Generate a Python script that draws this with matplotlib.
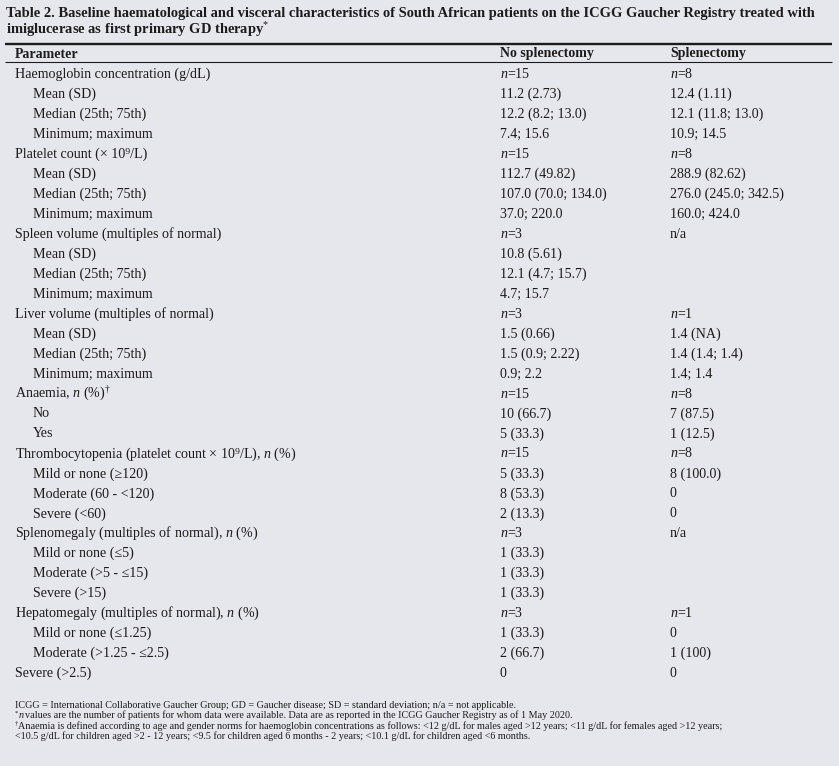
import matplotlib
matplotlib.use("Agg")
import matplotlib.pyplot as plt

plt.rcParams['font.family'] = ['Liberation Serif', 'DejaVu Serif']
plt.rcParams['mathtext.fontset'] = 'custom'
plt.rcParams['mathtext.rm'] = 'Liberation Serif'
plt.rcParams['mathtext.it'] = 'Liberation Serif:italic'
plt.rcParams['mathtext.bf'] = 'Liberation Serif:bold'

W, H = 839, 766
BG = '#e6e7ec'
INK = '#1e1b1c'

title_lines = [
    "Table 2. Baseline haematological and visceral characteristics of South African patients on the ICGG Gaucher Registry treated with",
    r"imiglucerase as first primary GD therapy$^{*}$",
]
headers = ["Parameter", "No splenectomy", "Splenectomy"]

params = [
    "Haemoglobin concentration (g/dL)", "Mean (SD)", "Median (25th; 75th)", "Minimum; maximum",
    "Platelet count (× 10⁹/L)", "Mean (SD)", "Median (25th; 75th)", "Minimum; maximum",
    "Spleen volume (multiples of normal)", "Mean (SD)", "Median (25th; 75th)", "Minimum; maximum",
    "Liver volume (multiples of normal)", "Mean (SD)", "Median (25th; 75th)", "Minimum; maximum",
    r"Anaemia, $n$ (%)$^{†}$", "No", "Yes",
    r"Thrombocytopenia (platelet count × 10⁹/L), $n$ (%)", "Mild or none (≥120)",
    "Moderate (60 - <120)", "Severe (<60)",
    r"Splenomegaly (multiples of normal), $n$ (%)", "Mild or none (≤5)",
    "Moderate (>5 - ≤15)", "Severe (>15)",
    r"Hepatomegaly (multiples of normal), $n$ (%)", "Mild or none (≤1.25)",
    "Moderate (>1.25 - ≤2.5)", "Severe (>2.5)",
]
indented = [0, 1, 1, 1, 0, 1, 1, 1, 0, 1, 1, 1, 0, 1, 1, 1,
            0, 1, 1, 0, 1, 1, 1, 0, 1, 1, 1, 0, 1, 1, 0]
no_splenectomy = [
    r"$n$=15", "11.2 (2.73)", "12.2 (8.2; 13.0)", "7.4; 15.6",
    r"$n$=15", "112.7 (49.82)", "107.0 (70.0; 134.0)", "37.0; 220.0",
    r"$n$=3", "10.8 (5.61)", "12.1 (4.7; 15.7)", "4.7; 15.7",
    r"$n$=3", "1.5 (0.66)", "1.5 (0.9; 2.22)", "0.9; 2.2",
    r"$n$=15", "10 (66.7)", "5 (33.3)",
    r"$n$=15", "5 (33.3)", "8 (53.3)", "2 (13.3)",
    r"$n$=3", "1 (33.3)", "1 (33.3)", "1 (33.3)",
    r"$n$=3", "1 (33.3)", "2 (66.7)", "0",
]
splenectomy = [
    r"$n$=8", "12.4 (1.11)", "12.1 (11.8; 13.0)", "10.9; 14.5",
    r"$n$=8", "288.9 (82.62)", "276.0 (245.0; 342.5)", "160.0; 424.0",
    "n/a", "", "", "",
    r"$n$=1", "1.4 (NA)", "1.4 (1.4; 1.4)", "1.4; 1.4",
    r"$n$=8", "7 (87.5)", "1 (12.5)",
    r"$n$=8", "8 (100.0)", "0", "0",
    "n/a", "", "", "",
    r"$n$=1", "0", "1 (100)", "0",
]
# (superscript mark, italic lead-in, rest of line)
footnote_marks = ["", "*", "†", ""]
footnote_italic = ["", "n", "", ""]
footnotes = [
    "ICGG = International Collaborative Gaucher Group; GD = Gaucher disease; SD = standard deviation; n/a = not applicable.",
    "values are the number of patients for whom data were available. Data are as reported in the ICGG Gaucher Registry as of 1 May 2020.",
    "Anaemia is defined according to age and gender norms for haemoglobin concentrations as follows: <12 g/dL for males aged >12 years; <11 g/dL for females aged >12 years;",
    "<10.5 g/dL for children aged >2 - 12 years; <9.5 for children aged 6 months - 2 years; <10.1 g/dL for children aged <6 months.",
]

fig = plt.figure(figsize=(W / 100, H / 100), dpi=100, facecolor=BG)
ax = fig.add_axes([0, 0, 1, 1])
ax.set_xlim(0, W)
ax.set_ylim(H, 0)
ax.axis('off')

# title
for i, t in enumerate(title_lines):
    ax.text(6, 17 + i * 17, t, fontsize=10.45, fontweight='bold', va='baseline',
            ha='left', color=INK)

ax.plot([5, 832], [43.5, 43.5], color=INK, lw=1.7, solid_capstyle='butt')
ax.plot([5, 832], [62.3, 62.3], color=INK, lw=0.8, solid_capstyle='butt')

col_x = [15, 500, 670]
for x, h in zip(col_x, headers):
    ax.text(x, 57.5, h, fontsize=10, fontweight='bold', va='baseline', ha='left', color=INK)

y0, dy = 78.0, 19.97
for i, (p, ind, a, b) in enumerate(zip(params, indented, no_splenectomy, splenectomy)):
    y = y0 + i * dy
    ax.text(col_x[0] + (18 if ind else 0), y, p, fontsize=10.05, va='baseline', ha='left', color=INK)
    ax.text(col_x[1], y, a, fontsize=10.05, va='baseline', ha='left', color=INK)
    ax.text(col_x[2], y, b, fontsize=10.05, va='baseline', ha='left', color=INK)

# footnotes
for i, (m, it, f) in enumerate(zip(footnote_marks, footnote_italic, footnotes)):
    y = 708 + i * 10.3
    x = 15
    if m:
        ax.text(x, y - 3.5, m, fontsize=4.8, va='baseline', ha='left', color=INK)
        x += 3.5
    if it:
        ax.text(x, y, it, fontsize=7.3, fontstyle='italic', va='baseline', ha='left', color=INK)
        x += 6.5
    ax.text(x, y, f, fontsize=7.3, va='baseline', ha='left', color=INK)

fig.savefig("out.png", dpi=100, facecolor=BG)
